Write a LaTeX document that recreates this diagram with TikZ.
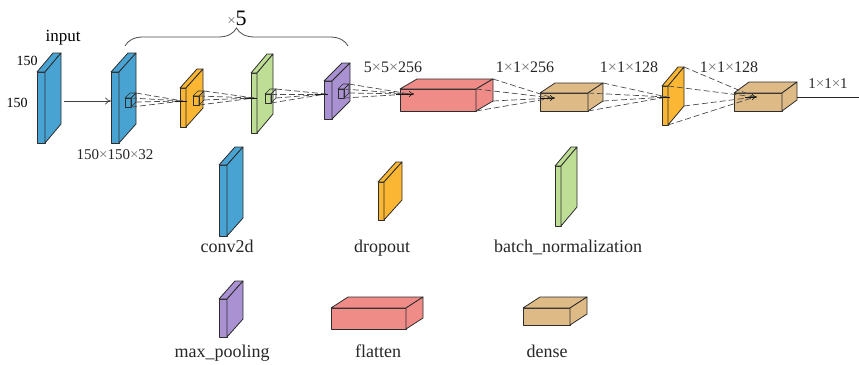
\documentclass[tikz,border=0pt]{standalone}
\usepackage{fontspec}
\setmainfont{Liberation Serif}
\usetikzlibrary{decorations.pathreplacing,arrows.meta}

\definecolor{convblue}{RGB}{72,163,211}
\definecolor{droporange}{RGB}{251,183,52}
\definecolor{bngreen}{RGB}{190,222,150}
\definecolor{poolpurple}{RGB}{170,146,210}
\definecolor{flatred}{RGB}{240,140,135}
\definecolor{densetan}{RGB}{222,186,135}
\definecolor{edge}{RGB}{45,45,45}

% grey multiplication sign used in the shape labels
\newcommand{\crossx}{{\color{black!55}\texttimes}}

% 3D slab: name, x, y (front top-left), width, height, depth dx, depth dy, style
\newcommand{\drawslab}[8]{%
  \coordinate (#1-a) at (#2,#3);
  \coordinate (#1-b) at (#2+#4,#3);
  \coordinate (#1-c) at (#2+#4,#3+#5);
  \coordinate (#1-d) at (#2,#3+#5);
  \coordinate (#1-e) at (#2+#6,#3-#7);
  \coordinate (#1-f) at (#2+#4+#6,#3-#7);
  \coordinate (#1-g) at (#2+#4+#6,#3+#5-#7);
  \path[slabedge,#8] (#1-a) -- (#1-b) -- (#1-c) -- (#1-d) -- cycle;
  \path[slabedge,#8] (#1-a) -- (#1-e) -- (#1-f) -- (#1-b) -- cycle;
  \path[slabedge,#8] (#1-b) -- (#1-f) -- (#1-g) -- (#1-c) -- cycle;
}

\begin{document}
\begin{tikzpicture}[x=1pt,y=-1pt,
  slabedge/.style={draw=edge,line width=0.8pt,line join=round},
  kernel/.style={draw=edge,line width=0.6pt,fill=none},
  proj/.style={draw=black!70,line width=0.7pt,dash pattern=on 6pt off 3pt},
  feed/.style={draw=black!90,line width=0.9pt},
  feedarrow/.style={draw=black!90,line width=0.7pt,-{To[length=5pt,width=6pt]}},
  dimlabel/.style={anchor=base,font=\fontsize{15}{15}\selectfont,text=black!85},
  legendlabel/.style={anchor=base,font=\fontsize{18}{18}\selectfont,text=black!85}]

\useasboundingbox (0,0) rectangle (859,364);

% ---------------- main pipeline ----------------
\drawslab{in}{37}{72}{8}{71}{16}{19}{fill=convblue}
\drawslab{cA}{111}{72}{8}{71}{17}{19}{fill=convblue}
\drawslab{dA}{180}{88}{6}{39}{17}{19}{fill=droporange}
\drawslab{bA}{251}{73}{6}{60}{16}{19}{fill=bngreen}
\drawslab{pA}{324}{81}{8}{38}{18}{18}{fill=poolpurple}
\drawslab{fl}{400}{89}{76}{22}{17}{10}{fill=flatred}
\drawslab{dnA}{540}{93}{48}{18}{15}{10}{fill=densetan}
\drawslab{dB}{662}{86}{6}{39}{16}{19}{fill=droporange}
\drawslab{dnB}{734}{93}{48}{18}{15}{11}{fill=densetan}

% kernels drawn on the feature maps
\drawslab{kA}{125}{98}{6}{9}{5}{5}{kernel}
\drawslab{kB}{193}{96}{6}{9}{5}{5}{kernel}
\drawslab{kC}{265}{94}{6}{9}{5}{5}{kernel}
\drawslab{kD}{338}{89}{6}{9}{5}{5}{kernel}

% convergence points on the following layer
\coordinate (t1) at (183,101);
\coordinate (t2) at (254,98);
\coordinate (t3) at (326,94);
\coordinate (t4) at (410,94);
\coordinate (t5) at (553,98);
\coordinate (t6) at (667,97);
\coordinate (t7) at (755,97);

\foreach \src/\dst in {kA/t1,kB/t2,kC/t3,kD/t4,fl/t5,dnA/t6,dB/t7}{
  \foreach \corner in {b,f,g,c}{
    \draw[proj] (\src-\corner) -- (\dst);
  }
}

% short feed segments at each target
\coordinate (s1) at (175,101); \coordinate (e1) at (187,101);
\coordinate (s2) at (245,98);  \coordinate (e2) at (257,98);
\coordinate (s3) at (315,94);  \coordinate (e3) at (328,94);
\coordinate (s4) at (396,94);  \coordinate (e4) at (414,94);
\coordinate (s5) at (540,98);  \coordinate (e5) at (555,98);
\coordinate (s6) at (660,97);  \coordinate (e6) at (670,97);
\coordinate (s7) at (745,97);  \coordinate (e7) at (757,97);
\draw[feed] (s1) -- (e1);
\draw[feed] (s2) -- (e2);
\draw[feed] (s3) -- (e3);
\draw[feedarrow] (s4) -- (e4);
\draw[feedarrow] (s5) -- (e5);
\draw[feed] (s6) -- (e6);
\draw[feedarrow] (s7) -- (e7);

% input arrow and output line
\coordinate (inout) at (64,101);
\coordinate (cAin) at (111,101);
\draw[draw=black!75,line width=0.7pt,-{To[length=6pt,width=7pt]}] (inout) -- (cAin);
\coordinate (outstart) at (797,97);
\coordinate (outend) at (859,97);
\draw[draw=black!85,line width=0.8pt] (outstart) -- (outend);

% repeat brace
\coordinate (brL) at (125,46);
\coordinate (brR) at (348,46);
\draw[draw=black!70,line width=0.8pt,decorate,decoration={brace,amplitude=18pt,aspect=0.5}] (brL) -- (brR);
\node[anchor=base] (rep) at (237,25) {{\fontsize{15}{15}\selectfont\crossx}{\fontsize{22}{22}\selectfont 5}};

% labels
\node[anchor=base,font=\fontsize{17}{17}\selectfont] (lin) at (63,41) {input};
\node[anchor=base,font=\fontsize{14}{14}\selectfont] (lh) at (27,65) {150};
\node[anchor=base,font=\fontsize{14}{14}\selectfont] (lw) at (17,107) {150};
\node[dimlabel] (l1) at (115,159) {150\crossx150\crossx32};
\node[dimlabel,font=\fontsize{16}{16}\selectfont] (l2) at (393,72) {5\crossx5\crossx256};
\node[dimlabel,font=\fontsize{16}{16}\selectfont] (l3) at (525,72) {1\crossx1\crossx256};
\node[dimlabel,font=\fontsize{16}{16}\selectfont] (l4) at (629,72) {1\crossx1\crossx128};
\node[dimlabel,font=\fontsize{16}{16}\selectfont] (l5) at (729,72) {1\crossx1\crossx128};
\node[dimlabel] (l6) at (828,88) {1\crossx1\crossx1};

% ---------------- legend ----------------
\drawslab{gC}{219}{165}{8}{71}{16}{18}{fill=convblue}
\drawslab{gO}{378}{182}{6}{38}{18}{20}{fill=droporange}
\drawslab{gB}{555}{166}{6}{60}{16}{19}{fill=bngreen}
\drawslab{gP}{219}{299}{8}{38}{16}{18}{fill=poolpurple}
\drawslab{gF}{331}{308}{75}{21}{17}{11}{fill=flatred}
\drawslab{gD}{523}{308}{47}{17}{17}{11}{fill=densetan}

\node[legendlabel] (nC) at (227,252) {conv2d};
\node[legendlabel] (nO) at (382,252) {dropout};
\node[legendlabel] (nB) at (568,252) {batch\_normalization};
\node[legendlabel] (nP) at (222,357) {max\_pooling};
\node[legendlabel] (nF) at (378,357) {flatten};
\node[legendlabel] (nD) at (547,357) {dense};

\end{tikzpicture}
\end{document}
